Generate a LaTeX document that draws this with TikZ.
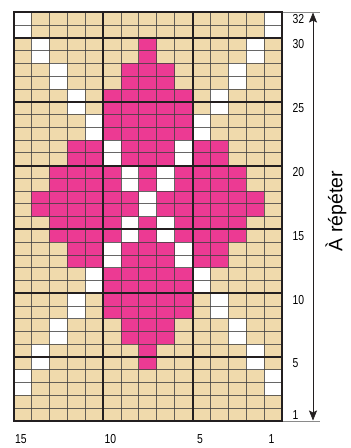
\documentclass[tikz,border=0pt]{standalone}
\usepackage{fontspec}
\setmainfont{Liberation Sans}
\newfontfamily\numfont[FakeStretch=0.8]{Liberation Sans}
\usetikzlibrary{arrows.meta}
\definecolor{cB}{HTML}{F0DAAC}
\definecolor{cP}{HTML}{EC3A93}
\definecolor{cW}{HTML}{FFFFFF}
\definecolor{thickline}{HTML}{231F20}
\definecolor{ruleline}{HTML}{8A8A8A}
\tikzset{
  thinrule/.style={draw=black!75, line width=0.8pt, opacity=0.8},
  thickrule/.style={draw=thickline, line width=2pt, line cap=rect},
  extrule/.style={draw=ruleline, line width=0.7pt},
  numlabel/.style={font=\numfont\fontsize{13}{13}\selectfont, inner sep=0pt},
  sidelabel/.style={font=\fontsize{19.5}{20}\selectfont, inner sep=0pt, rotate=90},
  repeatarrow/.style={draw=thickline, line width=0.7pt, {Stealth[length=10pt,width=8pt,inset=2pt]}-{Stealth[length=10pt,width=8pt,inset=2pt]}}
}
\begin{document}
\begin{tikzpicture}[x=1pt,y=-1pt]
\useasboundingbox (0,0) rectangle (351,448);
\fill[white] (0,0) rectangle (351,448);
\def\xo{13.5}\def\yo{12.3}\def\cw{17.9}\def\ch{12.77}
% extension rules
\coordinate (topL) at (\xo,12);
\coordinate (topR) at (320,12);
\coordinate (botL) at (\xo,421.2);
\coordinate (botR) at (320,421.2);
\draw[extrule] (topL) -- (topR);
\draw[extrule] (botL) -- (botR);
% cells
\foreach \row [count=\j] in {
 {W,B,B,B,B,B,B,B,B,B,B,B,B,B,W},
 {W,B,B,B,B,B,B,B,B,B,B,B,B,B,W},
 {B,W,B,B,B,B,B,P,B,B,B,B,B,W,B},
 {B,W,B,B,B,B,B,P,B,B,B,B,B,W,B},
 {B,B,W,B,B,B,P,P,P,B,B,B,W,B,B},
 {B,B,W,B,B,B,P,P,P,B,B,B,W,B,B},
 {B,B,B,W,B,P,P,P,P,P,B,W,B,B,B},
 {B,B,B,W,B,P,P,P,P,P,B,W,B,B,B},
 {B,B,B,B,W,P,P,P,P,P,W,B,B,B,B},
 {B,B,B,B,W,P,P,P,P,P,W,B,B,B,B},
 {B,B,B,P,P,W,P,P,P,W,P,P,B,B,B},
 {B,B,B,P,P,W,P,P,P,W,P,P,B,B,B},
 {B,B,P,P,P,P,W,P,W,P,P,P,P,B,B},
 {B,B,P,P,P,P,W,P,W,P,P,P,P,B,B},
 {B,P,P,P,P,P,P,W,P,P,P,P,P,P,B},
 {B,P,P,P,P,P,P,W,P,P,P,P,P,P,B},
 {B,B,P,P,P,P,W,P,W,P,P,P,P,B,B},
 {B,B,P,P,P,P,W,P,W,P,P,P,P,B,B},
 {B,B,B,P,P,W,P,P,P,W,P,P,B,B,B},
 {B,B,B,P,P,W,P,P,P,W,P,P,B,B,B},
 {B,B,B,B,W,P,P,P,P,P,W,B,B,B,B},
 {B,B,B,B,W,P,P,P,P,P,W,B,B,B,B},
 {B,B,B,W,B,P,P,P,P,P,B,W,B,B,B},
 {B,B,B,W,B,P,P,P,P,P,B,W,B,B,B},
 {B,B,W,B,B,B,P,P,P,B,B,B,W,B,B},
 {B,B,W,B,B,B,P,P,P,B,B,B,W,B,B},
 {B,W,B,B,B,B,B,P,B,B,B,B,B,W,B},
 {B,W,B,B,B,B,B,P,B,B,B,B,B,W,B},
 {W,B,B,B,B,B,B,B,B,B,B,B,B,B,W},
 {W,B,B,B,B,B,B,B,B,B,B,B,B,B,W},
 {B,B,B,B,B,B,B,B,B,B,B,B,B,B,B},
 {B,B,B,B,B,B,B,B,B,B,B,B,B,B,B}} {
  \foreach \c [count=\i] in \row {
    \fill[fill=c\c] ({\xo+(\i-1)*\cw},{\yo+(\j-1)*\ch}) rectangle ++(\cw,\ch);
  }
}
% thin grid lines
\foreach \i in {1,...,14} \draw[thinrule] ({\xo+\i*\cw},\yo) -- ++(0,{32*\ch});
\foreach \j in {1,...,31} \draw[thinrule] (\xo,{\yo+\j*\ch}) -- ++({15*\cw},0);
% thick grid lines
\foreach \i in {0,5,10,15} \draw[thickrule] ({\xo+\i*\cw},\yo) -- ++(0,{32*\ch});
\foreach \j in {0,2,7,12,17,22,27,32} \draw[thickrule] (\xo,{\yo+\j*\ch}) -- ++({15*\cw},0);
% repeat arrow
\coordinate (atop) at (313,12.5);
\coordinate (abot) at (313,420.5);
\draw[repeatarrow] (atop) -- (abot);
% right row labels
\foreach \r in {32,30,25,20,15,10,5,1}
  \node[numlabel, anchor=west] (r\r) at (292.5,{\yo+(32-\r+0.5)*\ch}) {\r};
% bottom column labels
\foreach \cc/\L in {15/1,10/6,5/11,1/15}
  \node[numlabel] (c\cc) at ({\xo+(\L-0.5)*\cw-1.5},439) {\cc};
% side label
\node[sidelabel] (rep) at (336,211) {À répéter};
\end{tikzpicture}
\end{document}
